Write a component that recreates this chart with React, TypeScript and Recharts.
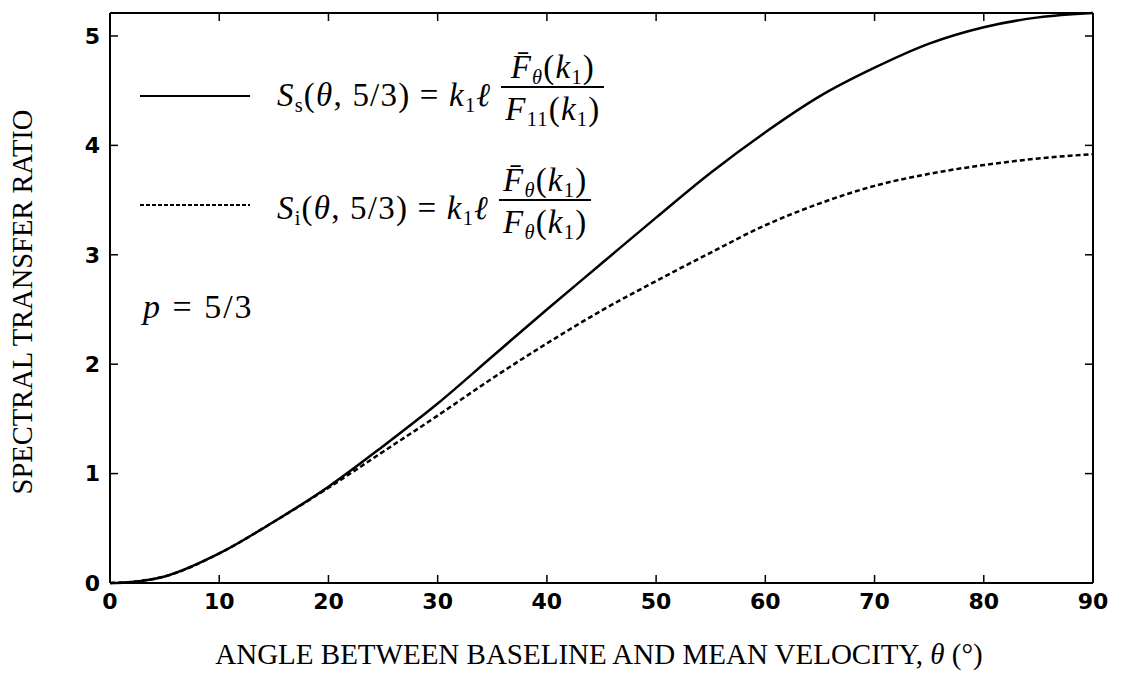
import React from 'react';
import { LineChart, Line, XAxis, YAxis, Legend } from 'recharts';

// angle between baseline and mean velocity (deg)
const angles = [0, 2, 5, 10, 15, 20, 25, 30, 35, 40, 45, 50, 55, 60, 65, 70, 75, 80, 85, 90];
// S_s(theta, 5/3) - solid curve
const solidRatio = [0, 0.01, 0.06, 0.27, 0.56, 0.88, 1.25, 1.64, 2.07, 2.5, 2.92, 3.34, 3.75, 4.12, 4.45, 4.71, 4.93, 5.08, 5.17, 5.21];
// S_i(theta, 5/3) - dashed curve
const dashedRatio = [0, 0.01, 0.06, 0.27, 0.56, 0.87, 1.2, 1.53, 1.87, 2.19, 2.49, 2.76, 3.02, 3.27, 3.47, 3.63, 3.74, 3.82, 3.88, 3.92];

const xTicks = [0, 10, 20, 30, 40, 50, 60, 70, 80, 90];
const yTicks = [0, 1, 2, 3, 4, 5];

const data = angles.map((a, i) => ({ angle: a, s: solidRatio[i], si: dashedRatio[i] }));

const SERIF = "'Liberation Serif', 'DejaVu Serif', serif";
const TICK_FONT = "'DejaVu Sans', 'Liberation Sans', sans-serif";

const tickStyle = { fill: '#000', fontSize: 22, fontWeight: 700, fontFamily: TICK_FONT };
const axisLineStyle = { stroke: '#000', strokeWidth: 2 };
const tickLineStyle = { stroke: '#000', strokeWidth: 1.5 };

// frame axes on top/right: tick marks only, no labels
const NoLabel = () => <g />;

const Sub = ({ children }: { children: React.ReactNode }) => (
  <span style={{ fontSize: '0.62em', verticalAlign: '-0.3em', lineHeight: 0 }}>{children}</span>
);

const Formula = ({ sub, den }: { sub: React.ReactNode; den: React.ReactNode }) => (
  <div style={{ display: 'flex', alignItems: 'center', fontFamily: SERIF, fontSize: 33, lineHeight: '38px', letterSpacing: 1.2, whiteSpace: 'nowrap' }}>
    <span style={{ paddingTop: 14 }}>
      <i>S</i><Sub>{sub}</Sub>(<i>θ</i>, 5/3) = <i>k</i><Sub>1</Sub><i>ℓ</i>
    </span>
    <span style={{ display: 'inline-flex', flexDirection: 'column', alignItems: 'center', marginLeft: 10 }}>
      <span style={{ padding: '0 4px' }}>
        <i>F̄</i><Sub><i>θ</i></Sub>(<i>k</i><Sub>1</Sub>)
      </span>
      <span style={{ borderTop: '2px solid #000', padding: '2px 4px 0' }}>{den}</span>
    </span>
  </div>
);

const LegendBox = () => (
  <div style={{ position: 'relative', width: 560, height: 290 }}>
    <svg width={112} height={200} style={{ position: 'absolute', left: 0, top: 0 }}>
      <line x1={0} x2={110} y1={46} y2={46} stroke="#000" strokeWidth={2} />
      <line x1={0} x2={110} y1={155} y2={155} stroke="#000" strokeWidth={2} strokeDasharray="4 2" />
    </svg>
    <div style={{ position: 'absolute', left: 137, top: -2 }}>
      <Formula sub="s" den={<><i>F</i><Sub>11</Sub>(<i>k</i><Sub>1</Sub>)</>} />
    </div>
    <div style={{ position: 'absolute', left: 137, top: 111 }}>
      <Formula sub="i" den={<><i>F</i><Sub><i>θ</i></Sub>(<i>k</i><Sub>1</Sub>)</>} />
    </div>
    <div style={{ position: 'absolute', left: 3, top: 238, fontFamily: SERIF, fontSize: 34, letterSpacing: 2, whiteSpace: 'nowrap' }}>
      <i>p</i> = 5/3
    </div>
  </div>
);

const XTitle = () => (
  <text x={599} y={664} textAnchor="middle" fontFamily={SERIF} fontSize={29} fill="#000">
    ANGLE BETWEEN BASELINE AND MEAN VELOCITY, <tspan fontStyle="italic">θ</tspan> (°)
  </text>
);

const YTitle = () => (
  <text x={32} y={302} textAnchor="middle" fontFamily={SERIF} fontSize={28.5} fill="#000" transform="rotate(-90 32 302)">
    SPECTRAL TRANSFER RATIO
  </text>
);

const App: React.FC = () => {
  return (
    <div style={{ position: 'absolute', left: 0, top: 0, width: 1128, height: 674, background: '#fff' }}>
      <LineChart width={1128} height={674} data={data} margin={{ top: 12, right: 34, bottom: 51, left: 50 }}>
        <XAxis
          dataKey="angle"
          type="number"
          domain={[0, 90]}
          ticks={xTicks}
          height={40}
          tickSize={-8}
          tickMargin={18}
          tick={tickStyle}
          axisLine={axisLineStyle}
          tickLine={tickLineStyle}
          label={XTitle}
        />
        <XAxis
          xAxisId="top"
          dataKey="angle"
          orientation="top"
          type="number"
          domain={[0, 90]}
          ticks={xTicks}
          height={1}
          tickSize={-8}
          tick={NoLabel}
          axisLine={axisLineStyle}
          tickLine={tickLineStyle}
        />
        <YAxis
          type="number"
          domain={[0, 5.2]}
          ticks={yTicks}
          width={60}
          tickSize={-8}
          tickMargin={18}
          tick={tickStyle}
          axisLine={axisLineStyle}
          tickLine={tickLineStyle}
          label={YTitle}
        />
        <YAxis
          yAxisId="right"
          orientation="right"
          type="number"
          domain={[0, 5.2]}
          ticks={yTicks}
          width={1}
          tickSize={-8}
          tick={NoLabel}
          axisLine={axisLineStyle}
          tickLine={tickLineStyle}
        />
        <Legend
          layout="horizontal"
          verticalAlign="middle"
          align="center"
          content={() => <LegendBox />}
          wrapperStyle={{ left: 140, top: 50, width: 560 }}
        />
        <Line type="monotone" dataKey="s" stroke="#000" strokeWidth={2.5} dot={false} isAnimationActive={false} />
        <Line type="monotone" dataKey="si" stroke="#000" strokeWidth={2.5} strokeDasharray="5 3" dot={false} isAnimationActive={false} />
        {/* invisible copy so the top/right frame axes get drawn */}
        <Line xAxisId="top" yAxisId="right" type="monotone" dataKey="s" stroke="none" dot={false} legendType="none" isAnimationActive={false} />
      </LineChart>
    </div>
  );
};

export default App;
